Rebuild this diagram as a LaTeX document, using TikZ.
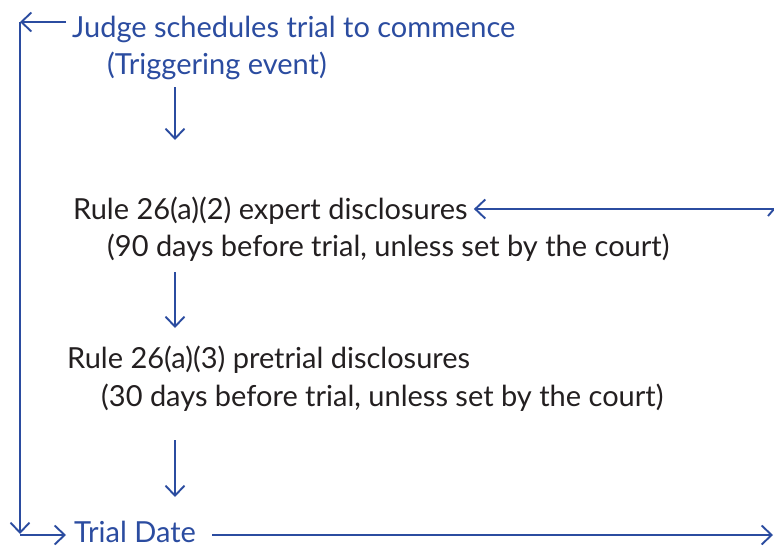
\documentclass[tikz,border=0pt]{standalone}
\usepackage{fontspec}
\setmainfont{Lato}
\usetikzlibrary{arrows.meta,calc}
\definecolor{dblue}{RGB}{43,76,160}
\definecolor{ink}{RGB}{35,31,32}
\tikzset{
  txt/.style={inner sep=0pt, anchor=base west, font=\fontsize{29}{34}\selectfont},
  bluetxt/.style={txt, text=dblue},
  blacktxt/.style={txt, text=ink},
  arr/.style={draw=dblue, line width=1.9pt, -{Straight Barb[length=10pt,width=19pt,line width=1.9pt]}},
  ln/.style={draw=dblue, line width=1.9pt}
}
\begin{document}
\begin{tikzpicture}[x=1pt,y=-1pt]
\useasboundingbox (0,0) rectangle (774,546);
\node[bluetxt] (judge) at (72,37) {Judge schedules trial to commence};
\node[bluetxt] (trig) at (107,74) {(Triggering event)};
\node[blacktxt] (r2) at (73,219) {Rule 26(a)(2) expert disclosures};
\node[blacktxt] (r2b) at (107,256) {(90 days before trial, unless set by the court)};
\node[blacktxt] (r3) at (67,368) {Rule 26(a)(3) pretrial disclosures};
\node[blacktxt] (r3b) at (101,406) {(30 days before trial, unless set by the court)};
\node[bluetxt] (trial) at (74,542) {Trial Date};
% corners and free ends
\coordinate (tl) at (20,22);
\coordinate (bl) at (20,534);
\coordinate (br) at (20,535);
\coordinate (tr) at (66,22);
\coordinate (rend2) at (774,209);
\coordinate (rendT) at (773,535);
% left bracket
\draw[arr] (tr) -- (tl);
\draw[arr] (tl) -- (bl);
\draw[arr] (br) -- ([xshift=-8pt]trial.west |- br);
% down arrows
\draw[arr] (trig.south -| 175,0) ++(0,8) -- (175,140);
\draw[arr] (175,272) -- (175,328);
\draw[arr] (175,440) -- (175,497);
% right lines
\draw[arr] (rend2) -- ([xshift=6pt]r2.east |- rend2);
\draw[ln] (768,216) -- (774,209);
\draw[arr] ([xshift=16pt]trial.east |- rendT) -- (rendT);
\end{tikzpicture}
\end{document}
